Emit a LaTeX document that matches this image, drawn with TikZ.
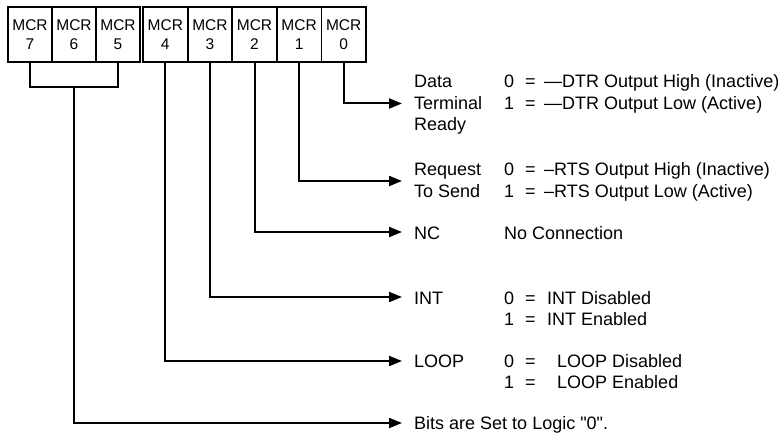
\documentclass[tikz,border=0pt]{standalone}
\usepackage{fontspec}
\setmainfont{Liberation Sans}
\usetikzlibrary{arrows.meta}
\begin{document}
\begin{tikzpicture}[x=1pt,y=-1pt,
  bx/.style={draw, line width=1.8pt, minimum width=44pt, minimum height=55pt,
    inner sep=0pt, align=center, font=\fontsize{15.5}{19}\selectfont},
  conn/.style={line width=2pt, -{Triangle[length=13pt,width=10pt]}},
  plain/.style={line width=2pt},
  txt/.style={anchor=base west, inner sep=0pt, font=\fontsize{18}{21}\selectfont}]
\useasboundingbox (0,0) rectangle (778,433);
% register boxes
\node[bx] (b7) at (30,34.5) {MCR\\7};
\node[bx] (b6) at (74,34.5) {MCR\\6};
\node[bx] (b5) at (118,34.5) {MCR\\5};
\node[bx, minimum width=44.6pt] (b4) at (165.3,34.5) {MCR\\4};
\node[bx, minimum width=44.6pt] (b3) at (209.9,34.5) {MCR\\3};
\node[bx, minimum width=44.6pt] (b2) at (254.5,34.5) {MCR\\2};
\node[bx, minimum width=44.6pt] (b1) at (299.1,34.5) {MCR\\1};
\node[bx, minimum width=44.6pt] (b0) at (343.7,34.5) {MCR\\0};
% arrow tips
\coordinate (t0) at (402,103.5);
\coordinate (t1) at (402,181);
\coordinate (t2) at (402,232);
\coordinate (t3) at (402,297);
\coordinate (t4) at (402,361);
\coordinate (t5) at (402,423);
\coordinate (bm) at (74,87);
% connectors
\draw[conn] (b0.south) |- (t0);
\draw[conn] (b1.south) |- (t1);
\draw[conn] (b2.south) |- (t2);
\draw[conn] (b3.south) |- (t3);
\draw[conn] (b4.south) |- (t4);
\draw[plain] (b7.south) |- (bm) -| (b5.south);
\draw[conn] (bm) |- (t5);
% texts
\node[txt] (l0a) at (414,88) {Data};
\node[txt] (l0b) at (414,110) {Terminal};
\node[txt] (l0c) at (414,131) {Ready};
\node[txt] (z0a) at (504,88) {0};
\node[txt] (e0a) at (525,88) {=};
\node[txt] (d0a) at (544,88) {—DTR Output High (Inactive)};
\node[txt] (z0b) at (504,110) {1};
\node[txt] (e0b) at (525,110) {=};
\node[txt] (d0b) at (544,110) {—DTR Output Low (Active)};
\node[txt] (l1a) at (414,175) {Request};
\node[txt] (l1b) at (414,197) {To Send};
\node[txt] (z1a) at (504,175) {0};
\node[txt] (e1a) at (525,175) {=};
\node[txt] (d1a) at (544,175) {–RTS Output High (Inactive)};
\node[txt] (z1b) at (504,197) {1};
\node[txt] (e1b) at (525,197) {=};
\node[txt] (d1b) at (544,197) {–RTS Output Low (Active)};
\node[txt] (l2) at (414,239) {NC};
\node[txt] (d2) at (504,239) {No Connection};
\node[txt] (l3) at (414,304) {INT};
\node[txt] (z3a) at (504,304) {0};
\node[txt] (e3a) at (525,304) {=};
\node[txt] (d3a) at (547,304) {INT Disabled};
\node[txt] (z3b) at (504,325) {1};
\node[txt] (e3b) at (525,325) {=};
\node[txt] (d3b) at (547,325) {INT Enabled};
\node[txt] (l4) at (414,367) {LOOP};
\node[txt] (z4a) at (504,367) {0};
\node[txt] (e4a) at (525,367) {=};
\node[txt] (d4a) at (557,367) {LOOP Disabled};
\node[txt] (z4b) at (504,388) {1};
\node[txt] (e4b) at (525,388) {=};
\node[txt] (d4b) at (557,388) {LOOP Enabled};
\node[txt] (l5) at (414,429) {Bits are Set to Logic \textquotedbl0\textquotedbl.};
\end{tikzpicture}
\end{document}
